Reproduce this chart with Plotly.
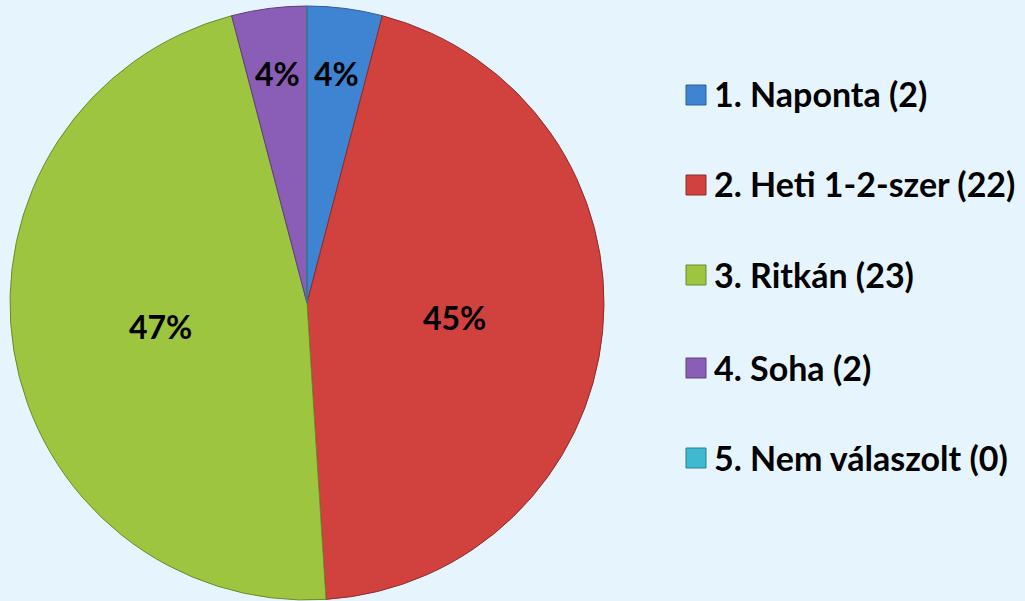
import math
import plotly.graph_objects as go

labels = ["1. Naponta", "2. Heti 1-2-szer", "3. Ritkán", "4. Soha", "5. Nem válaszolt"]
counts = [2, 22, 23, 2, 0]
colors = ["#3F84D2", "#D1413D", "#9DC53F", "#8A5DB7", "#3FB8D0"]
edge_colors = ["#2F5F99", "#8E2C29", "#6C8A2A", "#5E3F80", "#2A8094"]

W, H = 1025, 601
bg = "#E6F5FD"

# pie geometry in pixels (domain)
px_left, px_right, px_top, px_bottom = 10, 604, 6, 600
cx = (px_left + px_right) / 2
cy = (px_top + px_bottom) / 2
R = (px_right - px_left) / 2

fig = go.Figure()
fig.add_trace(go.Pie(
    labels=labels,
    values=counts,
    sort=False,
    direction="clockwise",
    rotation=0,
    marker=dict(colors=colors, line=dict(color=edge_colors, width=1)),
    textinfo="none",
    domain=dict(x=[px_left / W, px_right / W], y=[1 - px_bottom / H, 1 - px_top / H]),
    showlegend=False,
    hoverinfo="label+value+percent",
))

# Percent labels, placed at each slice's mid-angle
total = sum(counts)
cum = 0
for v in counts:
    if v > 0:
        frac = v / total
        mid = (cum + v / 2) / total * 2 * math.pi
        rf = 0.5 if frac > 0.1 else 0.78
        x = cx + rf * R * math.sin(mid)
        y = cy - rf * R * math.cos(mid)
        fig.add_annotation(xref="paper", yref="paper", x=x / W, y=1 - y / H,
                           xanchor="center", yanchor="middle", showarrow=False,
                           text=f"{round(frac * 100)}%",
                           font=dict(family="Lato", size=32, color="#000000", weight="bold"))
    cum += v

# Legend built from the data arrays
row_y = [95, 185, 275, 368, 458]
for lab, c, col, ec, y in zip(labels, counts, colors, edge_colors, row_y):
    fig.add_shape(type="rect", xref="paper", yref="paper",
                  x0=686 / W, x1=706 / W, y0=1 - (y + 10) / H, y1=1 - (y - 10) / H,
                  fillcolor=col, line=dict(color=ec, width=1))
    fig.add_annotation(xref="paper", yref="paper", x=712 / W, y=1 - (y - 1) / H,
                       xanchor="left", yanchor="middle", showarrow=False,
                       text=f"{lab} ({c})",
                       font=dict(family="Lato", size=34, color="#000000", weight="bold"))

fig.update_layout(
    width=W, height=H,
    margin=dict(l=0, r=0, t=0, b=0),
    paper_bgcolor=bg, plot_bgcolor=bg,
)

fig.write_html("out.html",
               config={"displayModeBar": False},
               post_script="document.body.style.margin='0';document.body.style.background='#E6F5FD';")
